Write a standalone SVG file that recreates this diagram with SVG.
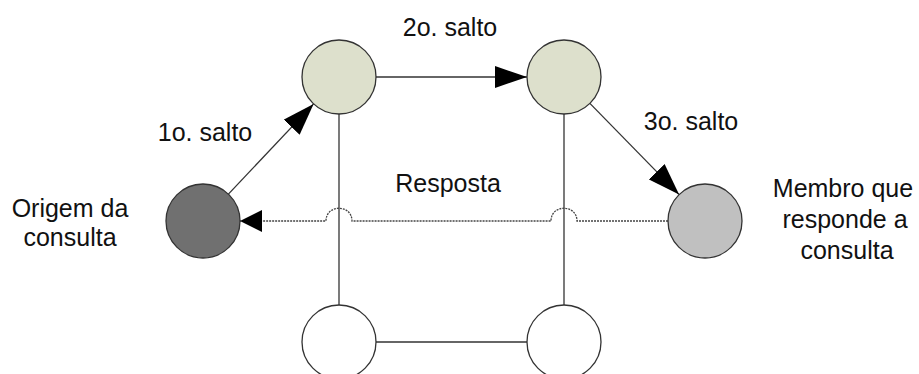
<svg xmlns="http://www.w3.org/2000/svg" width="919" height="374" viewBox="0 0 919 374">
  <defs>
    <style>
      .node { stroke: #333333; stroke-width: 1.3; }
      .relay { fill: #dde0cc; }
      .idle { fill: #ffffff; }
      .origin { fill: #707070; }
      .target { fill: #c0c0c0; }
      .link { fill: none; stroke: #333333; stroke-width: 1.3; }
      .reply { fill: none; stroke: #444444; stroke-width: 1.3; stroke-dasharray: 2 1; }
      text { font-family: "Liberation Sans", Arial, sans-serif; font-size: 25px; fill: #111111; text-anchor: middle; }
    </style>
    <marker id="head" markerUnits="userSpaceOnUse" markerWidth="33" markerHeight="23" refX="32" refY="11" orient="auto">
      <path d="M0,0 L32,11 L0,22 Z" fill="#000000"/>
    </marker>
    <marker id="headSmall" markerUnits="userSpaceOnUse" markerWidth="23" markerHeight="23" refX="22" refY="11" orient="auto">
      <path d="M0,0 L22,11 L0,22 Z" fill="#000000"/>
    </marker>
  </defs>

  <rect width="919" height="374" fill="#ffffff"/>

  <!-- connectors -->
  <g id="connectors">
    <line class="link" x1="339" y1="114" x2="339" y2="305"/>
    <line class="link" x1="564" y1="114" x2="564" y2="305"/>
    <line class="link" x1="376" y1="342" x2="527" y2="342"/>
    <line class="link" x1="228.4" y1="194.1" x2="313.6" y2="103.9" marker-end="url(#head)"/>
    <line class="link" x1="376" y1="77" x2="527" y2="77" marker-end="url(#head)"/>
    <line class="link" x1="589.9" y1="103.4" x2="679.1" y2="194.6" marker-end="url(#head)"/>
    <path class="reply" d="M668,221 H577 C577,204 551,204 551,221 H352 C352,204 326,204 326,221 H240" marker-end="url(#headSmall)"/>
  </g>

  <!-- nodes -->
  <g id="node-origin">
    <circle class="node origin" cx="203" cy="221" r="37"/>
    <text x="70" y="217">Origem da</text>
    <text x="70" y="246">consulta</text>
  </g>
  <g id="node-hop1">
    <circle class="node relay" cx="339" cy="77" r="37"/>
  </g>
  <g id="node-hop2">
    <circle class="node relay" cx="564" cy="77" r="37"/>
  </g>
  <g id="node-target">
    <circle class="node target" cx="705" cy="221" r="37"/>
    <text x="843" y="197">Membro que</text>
    <text x="845" y="228">responde a</text>
    <text x="847" y="259">consulta</text>
  </g>
  <g id="node-idle1">
    <circle class="node idle" cx="339" cy="342" r="37"/>
  </g>
  <g id="node-idle2">
    <circle class="node idle" cx="564" cy="342" r="37"/>
  </g>

  <!-- labels -->
  <g id="labels">
    <text x="205" y="141">1o. salto</text>
    <text x="450" y="36">2o. salto</text>
    <text x="691" y="130">3o. salto</text>
    <text x="448" y="192">Resposta</text>
  </g>
</svg>
